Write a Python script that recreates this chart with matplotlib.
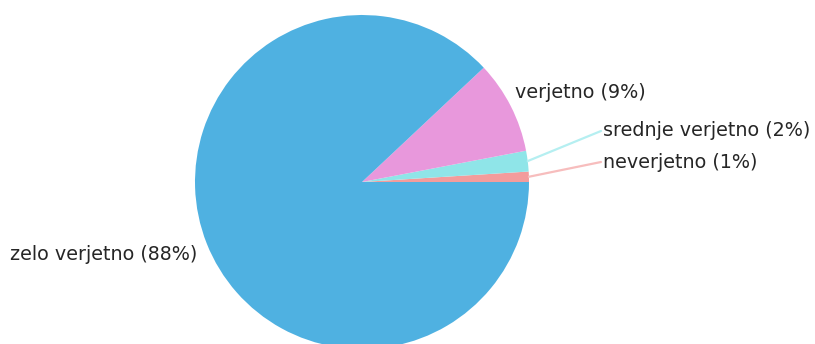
import numpy as np
import matplotlib
matplotlib.use("Agg")
from matplotlib import pyplot as plt

# Odgovori in deleži
categories = ["neverjetno", "srednje verjetno", "verjetno", "zelo verjetno"]
shares = [1, 2, 9, 88]
colors = ["#F39C9C", "#8FE5E8", "#E898DC", "#4FB1E1"]
line_colors = ["#F7BDBD", "#B5EFF1", "#F0BDE9", "#8ACBEC"]

W, H = 815, 344
fig = plt.figure(figsize=(W / 100, H / 100), dpi=100)
ax = fig.add_axes([0, 0, 1, 1])

cx, cy, r = 362, H - 182, 167
wedges, _ = ax.pie(shares, colors=colors, startangle=0, counterclock=True,
                   center=(cx, cy), radius=r, frame=True,
                   wedgeprops=dict(linewidth=0))
ax.set_xlim(0, W)
ax.set_ylim(0, H)
ax.set_aspect("equal")
ax.axis("off")

# label positions (x, y in px from top), leader line or not
label_pos = {
    "neverjetno": (603, 162, True),
    "srednje verjetno": (603, 131, True),
    "verjetno": (515, 93, False),
    "zelo verjetno": (10, 255, False),
}

for w, name, pct, lc in zip(wedges, categories, shares, line_colors):
    mid = np.deg2rad((w.theta1 + w.theta2) / 2)
    lx, ly, leader = label_pos[name]
    ty = H - ly
    if leader:
        sx = cx + r * np.cos(mid)
        sy = cy + r * np.sin(mid)
        ax.plot([sx, lx - 2], [sy, ty], color=lc, lw=1.6,
                solid_capstyle="round")
    ax.text(lx, ty, f"{name} ({pct}%)", fontsize=13.8, color="#262626",
            ha="left", va="center", family="DejaVu Sans")

fig.savefig("out.png", dpi=100, facecolor="white")
